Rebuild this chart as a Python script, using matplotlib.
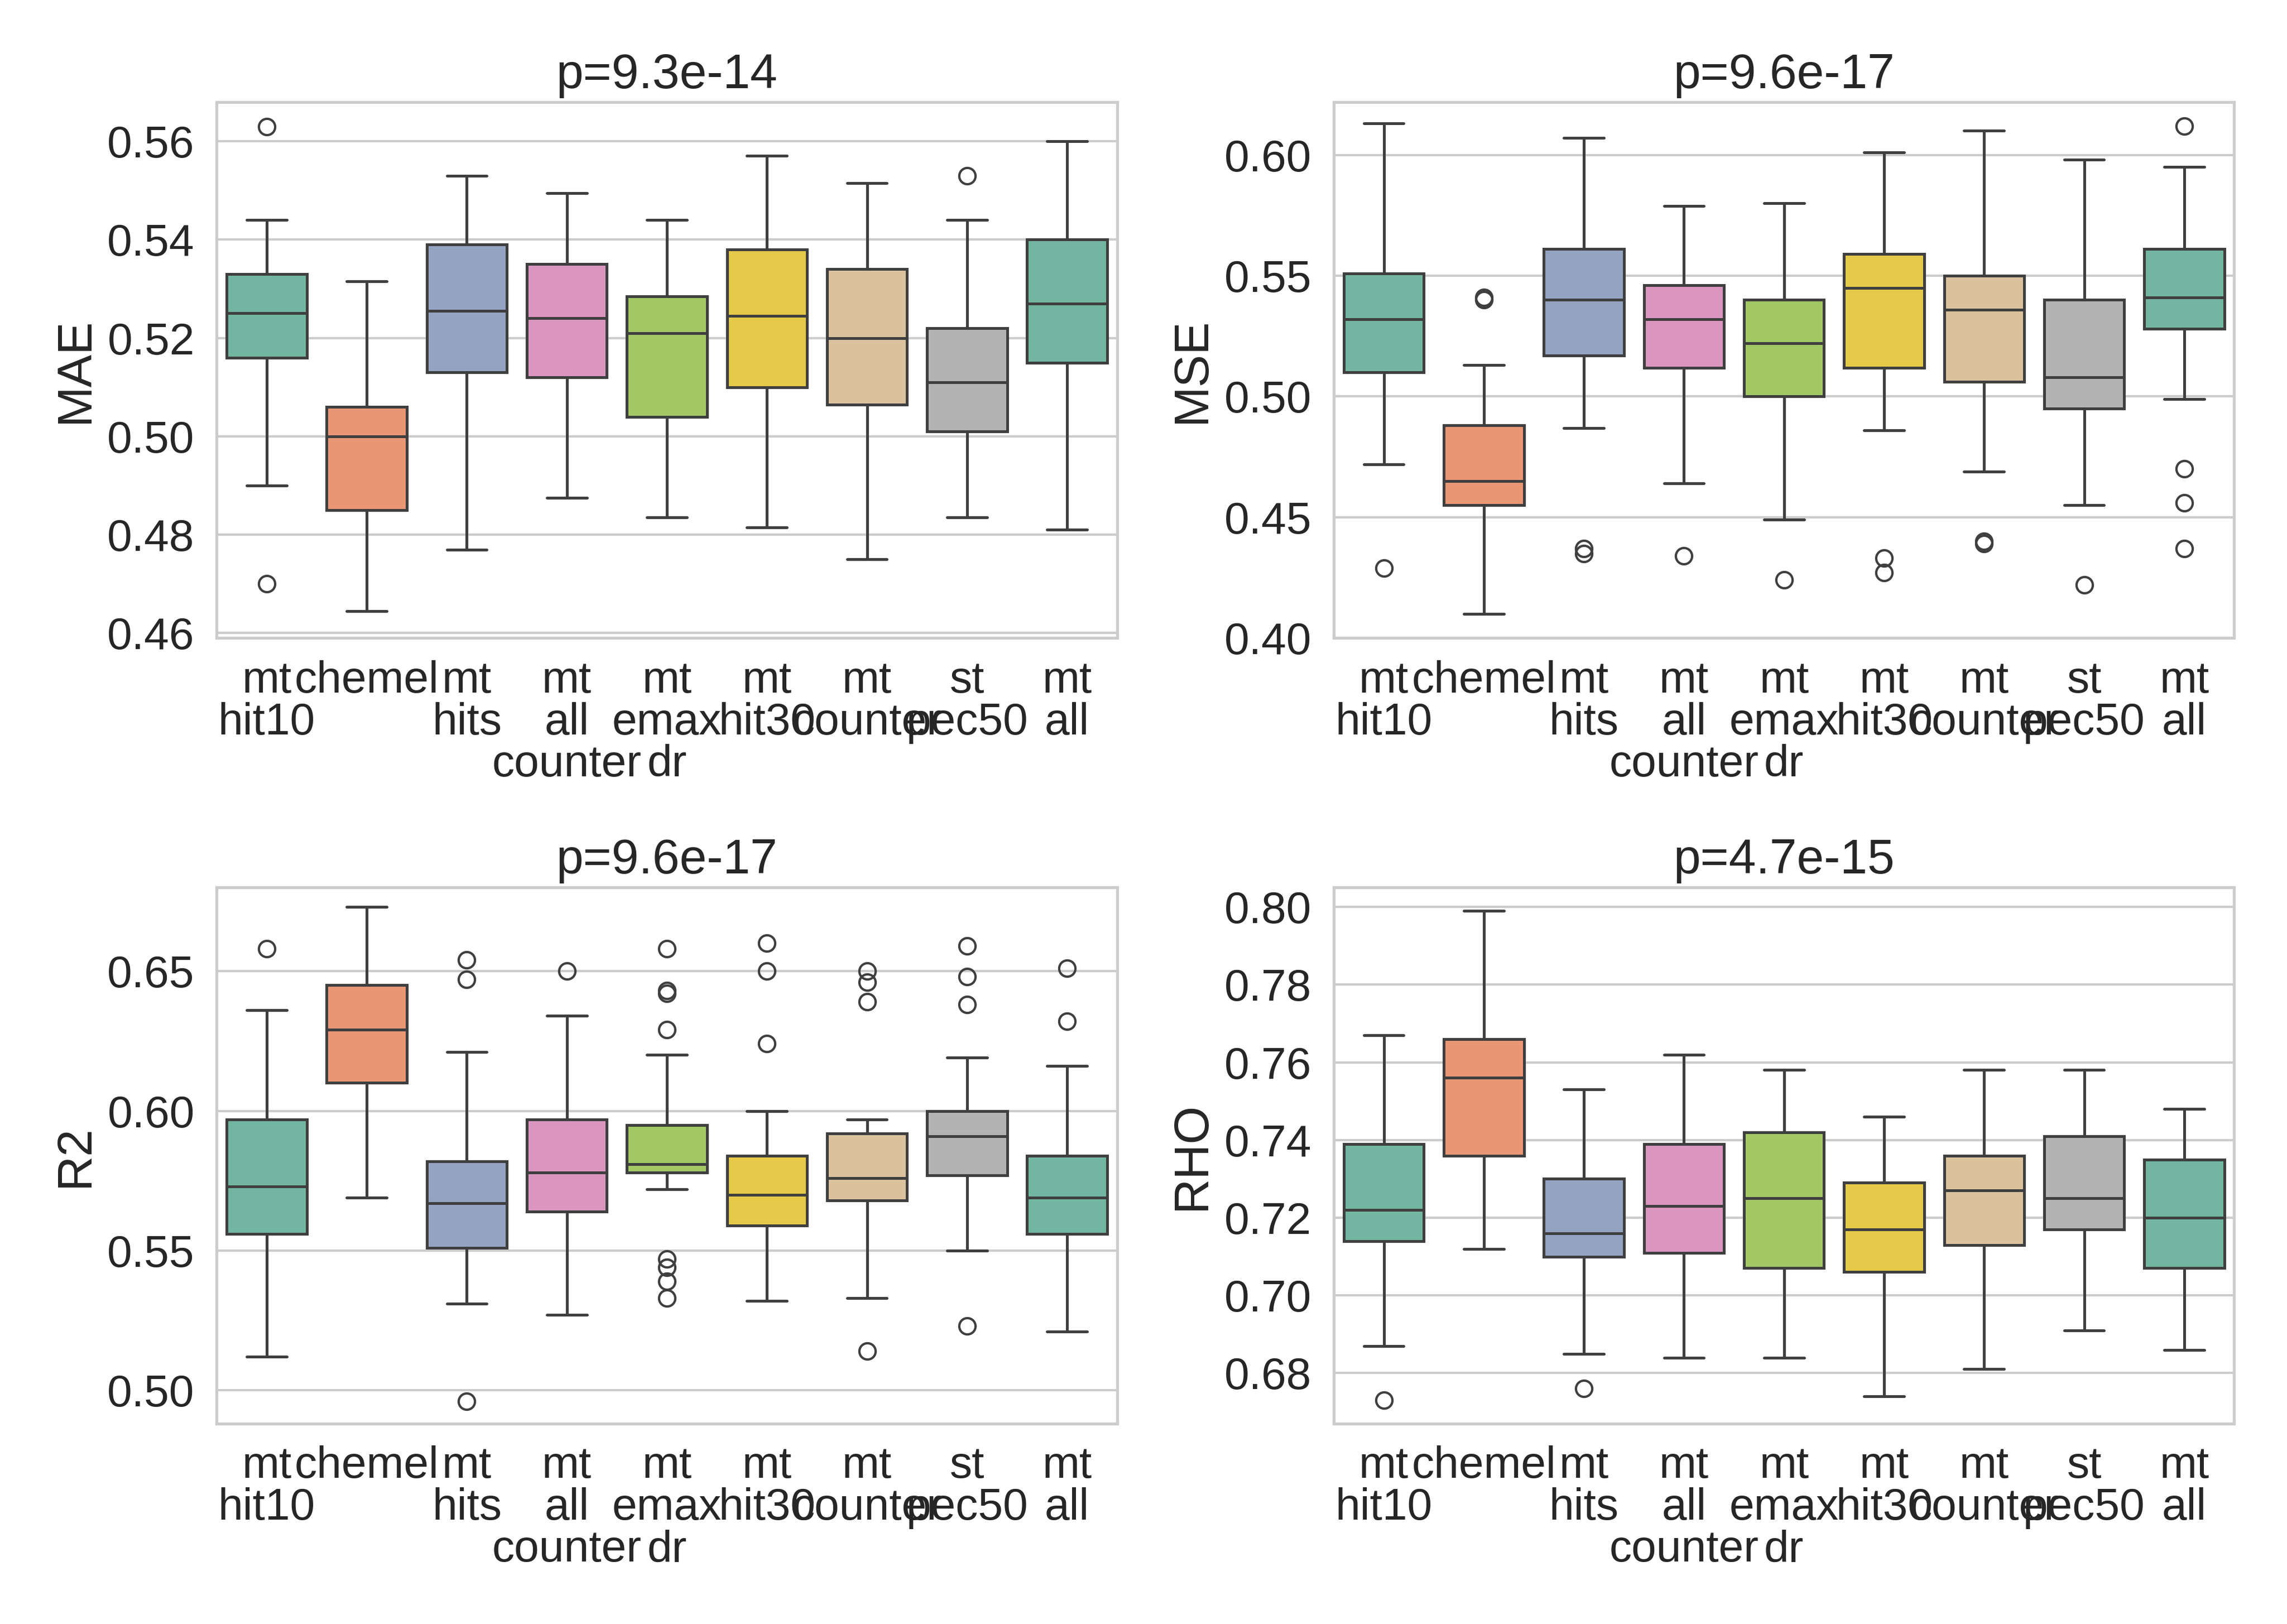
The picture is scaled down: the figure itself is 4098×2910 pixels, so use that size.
import matplotlib
matplotlib.use("Agg")
import matplotlib.pyplot as plt
import seaborn as sns

sns.set_theme(style="whitegrid", font_scale=1.75)
plt.rcParams['font.family'] = ['Arial', 'Liberation Sans', 'DejaVu Sans']

categories = ["mt\nhit10", "chemel", "mt\nhits", "mt\nall\ncounter", "mt\nemax\ndr",
              "mt\nhit30", "mt\ncounter", "st\npec50", "mt\nall"]

# (whislo, q1, med, q3, whishi)
mae_stats = [(0.490,0.516,0.525,0.533,0.544),(0.4645,0.485,0.500,0.506,0.5315),
             (0.477,0.513,0.5255,0.539,0.553),(0.4875,0.512,0.524,0.535,0.5495),
             (0.4835,0.504,0.521,0.5285,0.544),(0.4815,0.510,0.5245,0.538,0.557),
             (0.475,0.5065,0.520,0.534,0.5515),(0.4835,0.501,0.511,0.522,0.544),
             (0.481,0.515,0.527,0.540,0.560)]
mae_fliers = [[0.563,0.470],[],[],[],[],[],[],[0.553],[]]

mse_stats = [(0.472,0.510,0.532,0.551,0.613),(0.410,0.455,0.465,0.488,0.513),
             (0.487,0.517,0.540,0.561,0.607),(0.464,0.512,0.532,0.546,0.579),
             (0.449,0.500,0.522,0.540,0.580),(0.486,0.512,0.545,0.559,0.601),
             (0.469,0.506,0.536,0.550,0.610),(0.455,0.495,0.508,0.540,0.598),
             (0.499,0.528,0.541,0.561,0.595)]
mse_fliers = [[0.429],[0.540,0.541],[0.437,0.435],[0.434],[0.424],[0.433,0.427],
              [0.440,0.439],[0.422],[0.612,0.470,0.456,0.437]]

r2_stats = [(0.512,0.556,0.573,0.597,0.636),(0.569,0.610,0.629,0.645,0.673),
            (0.531,0.551,0.567,0.582,0.621),(0.527,0.564,0.578,0.597,0.634),
            (0.572,0.578,0.581,0.595,0.620),(0.532,0.559,0.570,0.584,0.600),
            (0.533,0.568,0.576,0.592,0.597),(0.550,0.577,0.591,0.600,0.619),
            (0.521,0.556,0.569,0.584,0.616)]
r2_fliers = [[0.658],[],[0.654,0.647,0.496],[0.650],
             [0.658,0.643,0.642,0.629,0.547,0.544,0.539,0.533],
             [0.660,0.650,0.624],[0.650,0.646,0.639,0.514],
             [0.659,0.648,0.638,0.523],[0.651,0.632]]

rho_stats = [(0.687,0.714,0.722,0.739,0.767),(0.712,0.736,0.756,0.766,0.799),
             (0.685,0.710,0.716,0.730,0.753),(0.684,0.711,0.723,0.739,0.762),
             (0.684,0.707,0.725,0.742,0.758),(0.674,0.706,0.717,0.729,0.746),
             (0.681,0.713,0.727,0.736,0.758),(0.691,0.717,0.725,0.741,0.758),
             (0.686,0.707,0.720,0.735,0.748)]
rho_fliers = [[0.673],[],[0.676],[],[],[],[],[],[]]

titles = ["p=9.3e-14", "p=9.6e-17", "p=9.6e-17", "p=4.7e-15"]
ylabels = ["MAE", "MSE", "R2", "RHO"]
ylims = [(0.459, 0.568), (0.400, 0.622), (0.488, 0.680), (0.667, 0.805)]
yticks = [[0.46,0.48,0.50,0.52,0.54,0.56],[0.40,0.45,0.50,0.55,0.60],
          [0.50,0.55,0.60,0.65],[0.68,0.70,0.72,0.74,0.76,0.78,0.80]]

pal = sns.color_palette("Set2", 8, desat=0.75)
colors = [pal[i % 8] for i in range(9)]

fig, axes = plt.subplots(2, 2, figsize=(13.66, 9.7), dpi=300)
data = [(mae_stats, mae_fliers), (mse_stats, mse_fliers), (r2_stats, r2_fliers), (rho_stats, rho_fliers)]
for ax, (st, fl), t, yl, lim, yt in zip(axes.flat, data, titles, ylabels, ylims, yticks):
    bs = [dict(whislo=s[0], q1=s[1], med=s[2], q3=s[3], whishi=s[4], fliers=f)
          for s, f in zip(st, fl)]
    art = ax.bxp(bs, positions=range(len(bs)), widths=0.8, patch_artist=True,
                 boxprops=dict(edgecolor="#3f3f3f", linewidth=1.2),
                 medianprops=dict(color="#3f3f3f", linewidth=1.2),
                 whiskerprops=dict(color="#3f3f3f", linewidth=1.2),
                 capprops=dict(color="#3f3f3f", linewidth=1.2),
                 flierprops=dict(marker="o", markerfacecolor="none",
                                 markeredgecolor="#3f3f3f", markersize=7))
    for p, c in zip(art["boxes"], colors):
        p.set_facecolor(c)
    for c in art["caps"]:
        x = c.get_xdata(); m = x.mean()
        c.set_xdata([m - 0.2, m + 0.2])
    ax.set_xticks(range(len(categories)))
    ax.set_xticklabels(categories, va="top", ha="center", multialignment="center", linespacing=1.0)
    ax.grid(False, axis="x")
    ax.set_xlim(-0.5, 8.5)
    ax.set_ylim(*lim)
    ax.set_yticks(yt)
    ax.set_title(t)
    ax.set_ylabel(yl)
    for sp in ax.spines.values():
        sp.set_edgecolor("#cccccc")
fig.tight_layout()
fig.savefig("out.png", dpi=300)
